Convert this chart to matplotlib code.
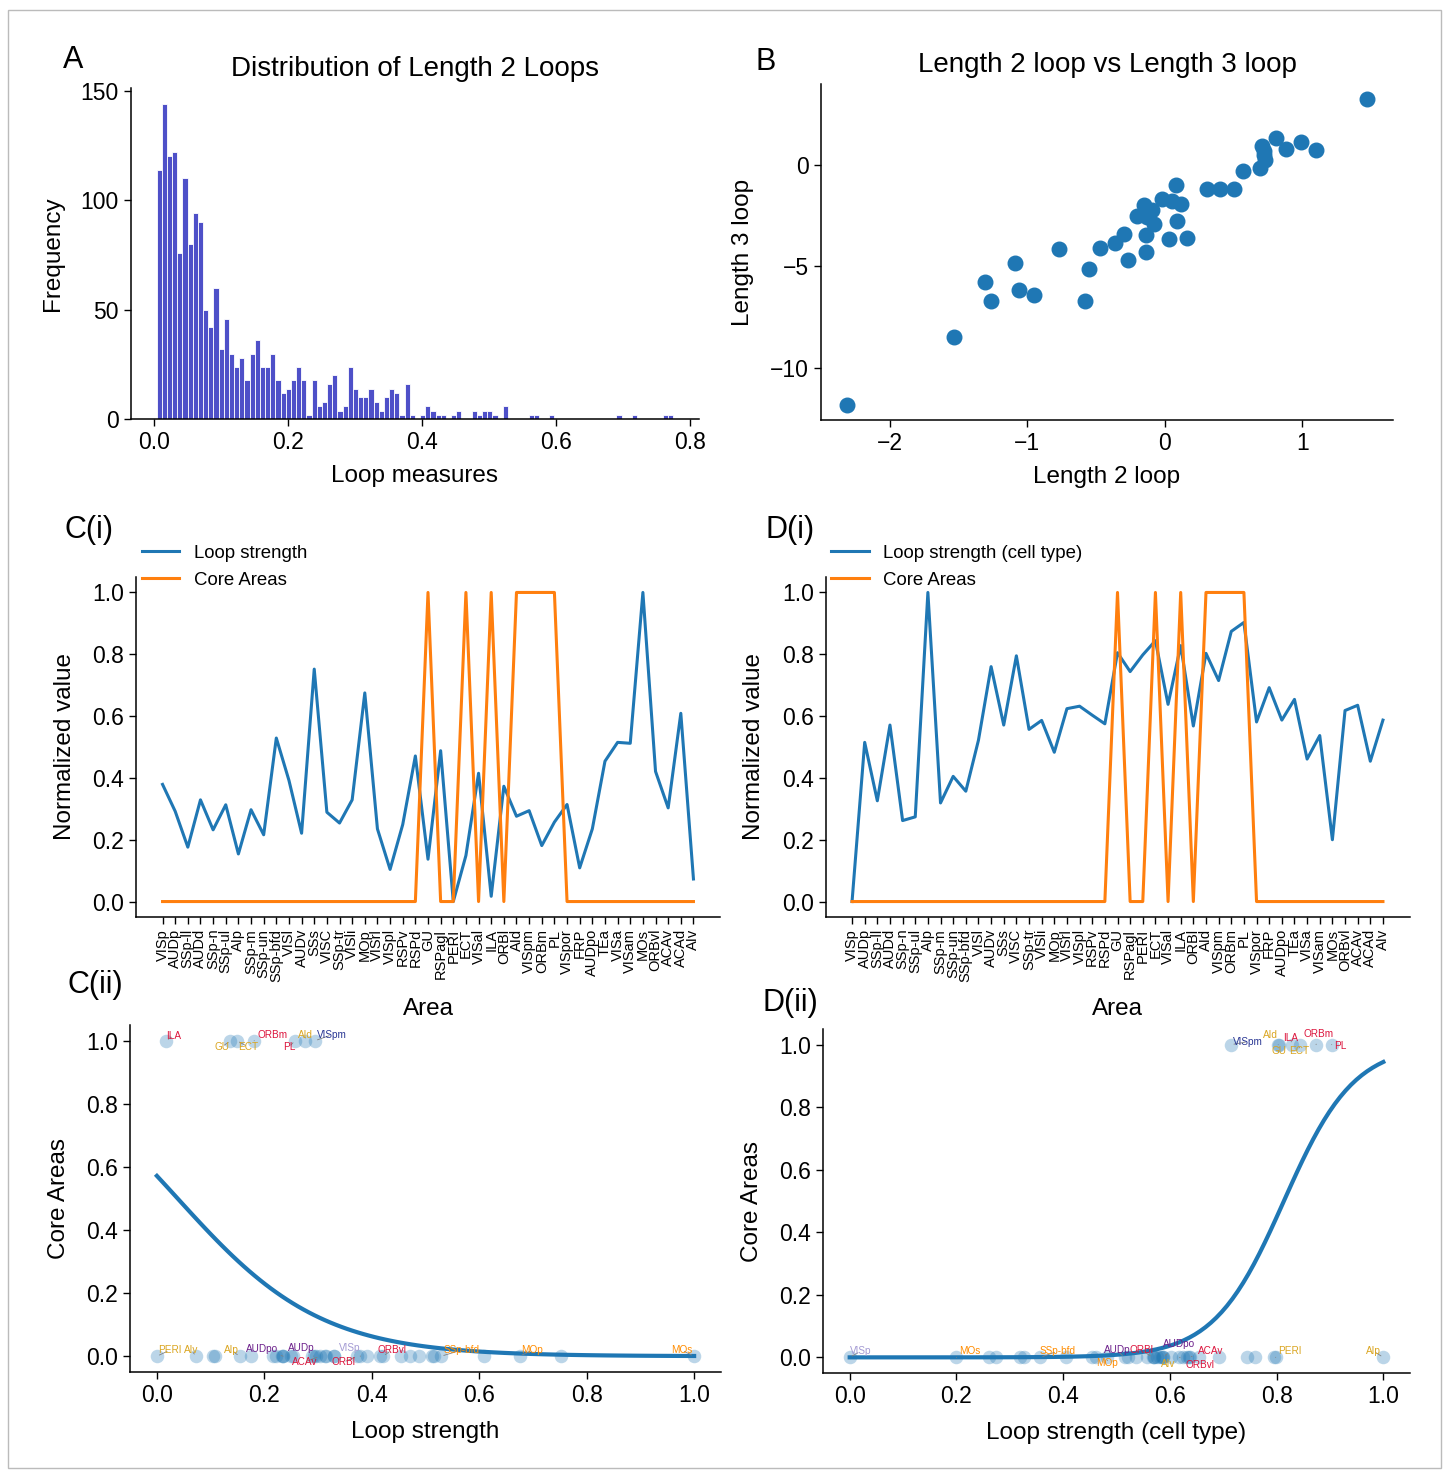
import numpy as np
import matplotlib
matplotlib.use("Agg")
import matplotlib.pyplot as plt
from matplotlib.patches import Rectangle

plt.rcParams['font.family'] = ['Liberation Sans', 'DejaVu Sans']

# ---- data -----------------------------------------------------------------
# histogram of length-2 loop measures (100 bins)
hist_lo, hist_hi = 0.0033, 0.7743
hist_counts = [114, 144, 120, 122, 76, 110, 80, 94, 90, 50,
               42, 60, 32, 46, 30, 24, 28, 18, 30, 36,
               24, 24, 30, 18, 12, 14, 18, 24, 18, 2,
               18, 6, 8, 16, 20, 4, 6, 24, 14, 10,
               10, 14, 8, 4, 10, 14, 12, 2, 16, 2,
               0, 2, 6, 4, 2, 2, 0, 2, 4, 0,
               0, 4, 2, 4, 4, 2, 0, 6, 0, 0,
               0, 0, 2, 2, 0, 0, 2, 0, 0, 0,
               0, 0, 0, 0, 0, 0, 0, 0, 0, 2,
               0, 0, 2, 0, 0, 0, 0, 0, 2, 2]

# length 2 loop vs length 3 loop
len2 = [-2.31, -1.53, -1.31, -1.26, -1.09, -1.06, -0.95, -0.77, -0.58, -0.55,
        -0.47, -0.36, -0.30, -0.27, -0.20, -0.15, -0.14, -0.14, -0.13, -0.09,
        -0.08, -0.02, 0.03, 0.05, 0.08, 0.09, 0.12, 0.16, 0.31, 0.40,
        0.50, 0.57, 0.69, 0.73, 0.72, 0.71, 0.81, 0.88, 0.99, 1.10,
        1.47, -0.12, 0.72]
len3 = [-11.83, -8.50, -5.76, -6.70, -4.83, -6.17, -6.44, -4.17, -6.72, -5.12,
        -4.13, -3.84, -3.43, -4.69, -2.51, -2.01, -3.47, -4.29, -2.56, -2.23,
        -2.92, -1.70, -3.65, -1.77, -1.02, -2.79, -1.95, -3.61, -1.19, -1.22,
        -1.22, -0.33, -0.18, 0.25, 0.66, 0.91, 1.32, 0.79, 1.12, 0.74,
        3.22, -2.40, 0.45]

areas = ['VISp', 'AUDp', 'SSp-ll', 'AUDd', 'SSp-n', 'SSp-ul', 'AIp', 'SSp-m',
         'SSp-un', 'SSp-bfd', 'VISl', 'AUDv', 'SSs', 'VISC', 'SSp-tr', 'VISli',
         'MOp', 'VISrl', 'VISpl', 'RSPv', 'RSPd', 'GU', 'RSPagl', 'PERI', 'ECT',
         'VISal', 'ILA', 'ORBl', 'AId', 'VISpm', 'ORBm', 'PL', 'VISpor', 'FRP',
         'AUDpo', 'TEa', 'VISa', 'VISam', 'MOs', 'ORBvl', 'ACAv', 'ACAd', 'AIv']

loop_strength = [0.379, 0.292, 0.176, 0.329, 0.232, 0.313, 0.154, 0.297,
                 0.216, 0.529, 0.392, 0.221, 0.752, 0.289, 0.254, 0.329,
                 0.675, 0.235, 0.104, 0.249, 0.471, 0.137, 0.488, 0.0,
                 0.149, 0.415, 0.017, 0.373, 0.276, 0.294, 0.181, 0.257,
                 0.314, 0.109, 0.235, 0.454, 0.515, 0.512, 1.0, 0.421,
                 0.303, 0.609, 0.073]

loop_strength_ct = [0.0, 0.515, 0.326, 0.571, 0.262, 0.274, 1.0, 0.319,
                    0.405, 0.357, 0.522, 0.760, 0.571, 0.795, 0.557, 0.586,
                    0.483, 0.624, 0.632, 0.603, 0.575, 0.805, 0.744, 0.798,
                    0.844, 0.638, 0.828, 0.568, 0.803, 0.715, 0.874, 0.903,
                    0.581, 0.692, 0.587, 0.654, 0.461, 0.537, 0.200, 0.618,
                    0.635, 0.454, 0.587]

core_areas = ['GU', 'ECT', 'ILA', 'AId', 'VISpm', 'ORBm', 'PL']

# labelled areas in the logistic panels and their module colour
label_colors = {
    'ILA': 'crimson', 'ORBm': 'crimson', 'PL': 'crimson', 'ACAv': 'crimson',
    'ORBl': 'crimson', 'ORBvl': 'crimson',
    'GU': 'goldenrod', 'ECT': 'goldenrod', 'AId': 'goldenrod',
    'PERI': 'goldenrod', 'AIv': 'goldenrod', 'AIp': 'goldenrod',
    'AUDpo': '#6b1e8a', 'AUDp': '#6b1e8a',
    'VISp': '#a39ad3', 'VISpm': '#283593',
    'SSp-bfd': 'darkorange', 'MOp': 'darkorange', 'MOs': 'darkorange',
}

# label offsets in pixels (dx, dy) for the two logistic panels
offsets_c = {
    'ILA': (0, 5), 'GU': (-16, -6), 'ECT': (1, -6), 'ORBm': (3, 6),
    'PL': (-12, -6), 'AId': (-7, 6), 'VISpm': (2, 6), 'PERI': (1, 6),
    'AIv': (-12, 6), 'AIp': (-16, 6), 'AUDpo': (-37, 7), 'AUDp': (-26, 8),
    'ACAv': (-28, -6), 'VISp': (-22, 8), 'ORBl': (-26, -6), 'ORBvl': (-6, 6),
    'SSp-bfd': (2, 6), 'MOp': (2, 6), 'MOs': (-23, 6),
}
offsets_d = {
    'VISp': (0, 6), 'MOs': (3, 6), 'SSp-bfd': (-1, 6), 'AUDp': (-21, 7),
    'MOp': (-11, -6), 'ORBl': (-23, 7), 'AUDpo': (0, 13), 'AIv': (-2, -7),
    'ACAv': (9, 6), 'ORBvl': (6, -8), 'PERI': (3, 6), 'AIp': (-17, 6),
    'VISpm': (2, 3), 'AId': (-15, 10), 'ILA': (-8, 7), 'ORBm': (-13, 11),
    'PL': (3, -1), 'GU': (-8, -6), 'ECT': (-11, -6),
}

W, H = 1447, 1472
fig = plt.figure(figsize=(W / 100, H / 100), dpi=100)


def px_axes(l, t, r, b):
    return fig.add_axes([l / W, 1 - b / H, (r - l) / W, (b - t) / H])


def style(ax):
    for s in ['top', 'right']:
        ax.spines[s].set_visible(False)
    for s in ['left', 'bottom']:
        ax.spines[s].set_linewidth(1.1)
    ax.tick_params(labelsize=16.5, length=5, width=1)


def fit_logistic(x, y):
    X = np.column_stack([np.ones_like(x), x])
    beta = np.zeros(2)
    for _ in range(100):
        p = 1 / (1 + np.exp(-X @ beta))
        w = p * (1 - p)
        hess = X.T @ (X * w[:, None])
        grad = X.T @ (y - p)
        beta = beta + np.linalg.solve(hess, grad)
    return beta


lab_fs = 17.5
ypad = 12

# ---- A: histogram ----
ax = px_axes(130.7, 88, 699, 419.3)
edges = np.linspace(hist_lo, hist_hi, len(hist_counts) + 1)
centers = (edges[:-1] + edges[1:]) / 2
ax.hist(centers, bins=edges, weights=hist_counts, color='#4e50c8',
        edgecolor='white', linewidth=0.6)
ax.set_title('Distribution of Length 2 Loops', fontsize=20, pad=9)
ax.set_xlabel('Loop measures', fontsize=lab_fs, labelpad=8)
ax.set_ylabel('Frequency', fontsize=lab_fs, labelpad=ypad)
ax.set_yticks([0, 50, 100, 150])
style(ax)

# ---- B: scatter ----
ax = px_axes(821, 84, 1393, 420)
ax.scatter(len2, len3, s=110, color='#1f77b4')
ax.set_title('Length 2 loop vs Length 3 loop', fontsize=20, pad=9)
ax.set_xlabel('Length 2 loop', fontsize=lab_fs, labelpad=8)
ax.set_ylabel('Length 3 loop', fontsize=lab_fs, labelpad=ypad)
ax.set_yticks([-10, -5, 0])
ax.set_xticks([-2, -1, 0, 1])
style(ax)

core = np.array([1.0 if a in core_areas else 0.0 for a in areas])

# ---- C(i), D(i): line plots ----
for box, vals, lbl in [((136, 577, 720, 917), loop_strength, 'Loop strength'),
                       ((825.5, 577, 1409.5, 917), loop_strength_ct,
                        'Loop strength (cell type)')]:
    ax = px_axes(*box)
    ax.plot(areas, vals, color='#1f77b4', lw=2.2, label=lbl)
    ax.plot(areas, core, color='#ff7f0e', lw=2.2, label='Core Areas')
    ax.set_yticks([0, 0.2, 0.4, 0.6, 0.8, 1.0])
    ax.set_ylabel('Normalized value', fontsize=lab_fs, labelpad=ypad)
    style(ax)
    ax.tick_params(axis='x', labelsize=10.5, rotation=90)
    ax.set_xlabel('Area', fontsize=lab_fs, labelpad=12)
    ax.legend(loc='upper left', bbox_to_anchor=(0.01, 1.095), frameon=False,
              fontsize=13.4, borderpad=0, borderaxespad=0, labelspacing=0.55)

# ---- C(ii), D(ii): logistic fits ----
for box, vals, xl, offs in [((130, 1025, 721, 1372), loop_strength,
                             'Loop strength', offsets_c),
                            ((823, 1029, 1410, 1373), loop_strength_ct,
                             'Loop strength (cell type)', offsets_d)]:
    ax = px_axes(*box)
    x = np.array(vals)
    ax.scatter(x, core, s=95, color='#1f77b4', alpha=0.3, linewidths=0)
    b0, b1 = fit_logistic(x, core)
    grid = np.linspace(x.min(), x.max(), 100)
    ax.plot(grid, 1 / (1 + np.exp(-(b0 + b1 * grid))), color='#1f77b4', lw=3)
    for name, (dx, dy) in offs.items():
        i = areas.index(name)
        ax.annotate(name, (x[i], core[i]), xytext=(dx, dy),
                    textcoords='offset pixels', ha='left', va='center',
                    fontsize=7.2, color=label_colors[name],
                    arrowprops=dict(arrowstyle='-', color='gray', lw=0.6))
    ax.set_xlabel(xl, fontsize=lab_fs, labelpad=10)
    ax.set_ylabel('Core Areas', fontsize=lab_fs, labelpad=ypad)
    ax.set_xticks([0, 0.2, 0.4, 0.6, 0.8, 1.0])
    ax.set_yticks([0, 0.2, 0.4, 0.6, 0.8, 1.0])
    style(ax)

# panel letters
for txt, px, py in [('A', 73, 60), ('B', 766, 62), ('C(i)', 89, 530),
                    ('D(i)', 790, 530), ('C(ii)', 95, 985), ('D(ii)', 790, 1003)]:
    fig.text(px / W, 1 - py / H, txt, fontsize=22, ha='center', va='center')

fig.patches.append(Rectangle((8 / W, 1 - 1468 / H), 1433 / W, 1458 / H,
                             transform=fig.transFigure, fill=False,
                             edgecolor='#bbbbbb', lw=1))

fig.savefig('out.png', dpi=100)
